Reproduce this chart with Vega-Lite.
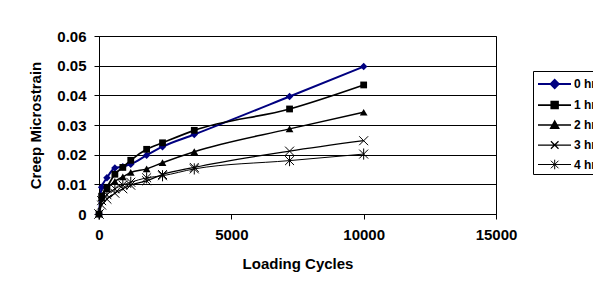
{
  "$schema": "https://vega.github.io/schema/vega-lite/v6.json",
  "width": 397,
  "height": 178,
  "autosize": {"type": "none"},
  "padding": {"left": 99, "top": 36, "right": 97, "bottom": 75},
  "background": "white",
  "config": {
    "font": "Liberation Sans",
    "view": {"stroke": "black", "strokeWidth": 1},
    "axis": {
      "domainColor": "black",
      "tickColor": "black",
      "gridColor": "black",
      "gridOpacity": 1,
      "tickSize": 5,
      "labelFont": "Liberation Sans",
      "labelFontSize": 15,
      "labelFontWeight": "bold",
      "labelColor": "black",
      "titleFont": "Liberation Sans",
      "titleFontSize": 15,
      "titleFontWeight": "bold",
      "titleColor": "black"
    }
  },
  "data": {
    "values": [
      {"cycles": 0, "series": "0 hr", "strain": 0},
      {"cycles": 100, "series": "0 hr", "strain": 0.009},
      {"cycles": 300, "series": "0 hr", "strain": 0.0122},
      {"cycles": 600, "series": "0 hr", "strain": 0.0155},
      {"cycles": 900, "series": "0 hr", "strain": 0.0159},
      {"cycles": 1200, "series": "0 hr", "strain": 0.0168},
      {"cycles": 1800, "series": "0 hr", "strain": 0.0198},
      {"cycles": 2400, "series": "0 hr", "strain": 0.0227},
      {"cycles": 3600, "series": "0 hr", "strain": 0.0268},
      {"cycles": 7200, "series": "0 hr", "strain": 0.0396},
      {"cycles": 10000, "series": "0 hr", "strain": 0.0497},
      {"cycles": 0, "series": "1 hr", "strain": 0},
      {"cycles": 100, "series": "1 hr", "strain": 0.006},
      {"cycles": 300, "series": "1 hr", "strain": 0.009},
      {"cycles": 600, "series": "1 hr", "strain": 0.0134},
      {"cycles": 900, "series": "1 hr", "strain": 0.0157},
      {"cycles": 1200, "series": "1 hr", "strain": 0.0181},
      {"cycles": 1800, "series": "1 hr", "strain": 0.0218},
      {"cycles": 2400, "series": "1 hr", "strain": 0.024},
      {"cycles": 3600, "series": "1 hr", "strain": 0.0282},
      {"cycles": 7200, "series": "1 hr", "strain": 0.0354},
      {"cycles": 10000, "series": "1 hr", "strain": 0.0435},
      {"cycles": 0, "series": "2 hr", "strain": 0},
      {"cycles": 100, "series": "2 hr", "strain": 0.0055},
      {"cycles": 300, "series": "2 hr", "strain": 0.0085},
      {"cycles": 600, "series": "2 hr", "strain": 0.011},
      {"cycles": 900, "series": "2 hr", "strain": 0.0125},
      {"cycles": 1200, "series": "2 hr", "strain": 0.014},
      {"cycles": 1800, "series": "2 hr", "strain": 0.0152},
      {"cycles": 2400, "series": "2 hr", "strain": 0.0173},
      {"cycles": 3600, "series": "2 hr", "strain": 0.021},
      {"cycles": 7200, "series": "2 hr", "strain": 0.0287},
      {"cycles": 10000, "series": "2 hr", "strain": 0.0343},
      {"cycles": 0, "series": "3 hr", "strain": 0},
      {"cycles": 100, "series": "3 hr", "strain": 0.003},
      {"cycles": 300, "series": "3 hr", "strain": 0.005},
      {"cycles": 600, "series": "3 hr", "strain": 0.007},
      {"cycles": 900, "series": "3 hr", "strain": 0.0085},
      {"cycles": 1200, "series": "3 hr", "strain": 0.0097},
      {"cycles": 1800, "series": "3 hr", "strain": 0.0112},
      {"cycles": 2400, "series": "3 hr", "strain": 0.0133},
      {"cycles": 3600, "series": "3 hr", "strain": 0.0157},
      {"cycles": 7200, "series": "3 hr", "strain": 0.0212},
      {"cycles": 10000, "series": "3 hr", "strain": 0.0247},
      {"cycles": 0, "series": "4 hr", "strain": 0},
      {"cycles": 100, "series": "4 hr", "strain": 0.0045},
      {"cycles": 300, "series": "4 hr", "strain": 0.0065},
      {"cycles": 600, "series": "4 hr", "strain": 0.0085},
      {"cycles": 900, "series": "4 hr", "strain": 0.0098},
      {"cycles": 1200, "series": "4 hr", "strain": 0.0107},
      {"cycles": 1800, "series": "4 hr", "strain": 0.0122},
      {"cycles": 2400, "series": "4 hr", "strain": 0.0129},
      {"cycles": 3600, "series": "4 hr", "strain": 0.0152},
      {"cycles": 7200, "series": "4 hr", "strain": 0.018},
      {"cycles": 10000, "series": "4 hr", "strain": 0.0202}
    ]
  },
  "encoding": {
    "x": {
      "field": "cycles",
      "type": "quantitative",
      "title": "Loading Cycles",
      "scale": {"domain": [0, 15000], "nice": false},
      "axis": {"values": [0, 5000, 10000, 15000], "format": "d", "grid": false, "labelPadding": 8, "titlePadding": 14, "labelFlush": false}
    },
    "y": {
      "field": "strain",
      "type": "quantitative",
      "title": "Creep Microstrain",
      "scale": {"domain": [0, 0.06], "nice": false},
      "axis": {"values": [0, 0.01, 0.02, 0.03, 0.04, 0.05, 0.06], "format": ".2~f", "grid": true, "labelPadding": 8, "titlePadding": 13, "labelFlush": false}
    }
  },
  "layer": [
    {
      "mark": {"type": "line", "interpolate": "monotone"},
      "encoding": {
        "color": {
          "field": "series",
          "type": "nominal",
          "scale": {"domain": ["0 hr", "1 hr", "2 hr", "3 hr", "4 hr"], "range": ["#000080", "black", "black", "black", "black"]},
          "legend": {
            "title": null,
            "orient": "none",
            "legendX": 434,
            "legendY": 35,
            "padding": 2,
            "strokeColor": "black",
            "fillColor": "white",
            "labelFont": "Liberation Sans",
            "labelFontSize": 12,
            "labelFontWeight": "bold",
            "labelColor": "black",
            "symbolSize": 400,
            "labelOffset": 17,
            "rowPadding": 2,
            "encode": {
              "symbols": {
                "update": {
                  "shape": {"signal": "datum.value === '0 hr' ? 'M-0.8,0L2.5,0M0.87,-0.4L1.27,0L0.87,0.4L0.47,0Z' : datum.value === '1 hr' ? 'M-0.8,0L2.5,0M0.53,-0.33L1.2,-0.33L1.2,0.33L0.53,0.33Z' : datum.value === '2 hr' ? 'M-0.8,0L2.5,0M0.87,-0.4L1.27,0.32L0.47,0.32Z' : datum.value === '3 hr' ? 'M-0.8,0L2.5,0M0.49,-0.38L1.25,0.38M0.49,0.38L1.25,-0.38' : 'M-0.8,0L2.5,0M0.49,-0.38L1.25,0.38M0.49,0.38L1.25,-0.38M0.87,-0.48L0.87,0.48'"},
                  "fill": {"signal": "datum.value === '0 hr' ? '#000080' : (datum.value === '3 hr' || datum.value === '4 hr') ? 'transparent' : 'black'"},
                  "stroke": {"signal": "datum.value === '0 hr' ? '#000080' : 'black'"},
                  "strokeWidth": {"signal": "datum.value === '1 hr' ? 1 : 2"},
                  "size": {"value": 400},
                  "opacity": {"value": 1}
                }
              }
            }
          }
        },
        "strokeWidth": {
          "field": "series",
          "type": "nominal",
          "scale": {"domain": ["0 hr", "1 hr", "2 hr", "3 hr", "4 hr"], "range": [2, 1, 2, 2, 2]},
          "legend": null
        }
      }
    },
    {
      "transform": [{"filter": "datum.series === '0 hr' || datum.series === '1 hr'"}],
      "mark": {"type": "point", "filled": true, "opacity": 1},
      "encoding": {
        "color": {"condition": {"test": "datum.series === '0 hr'", "value": "#000080"}, "value": "black"},
        "shape": {"condition": {"test": "datum.series === '0 hr'", "value": "diamond"}, "value": "square"},
        "size": {"condition": {"test": "datum.series === '0 hr'", "value": 56}, "value": 46}
      }
    },
    {
      "transform": [{"filter": "datum.series === '2 hr'"}],
      "mark": {"type": "point", "filled": true, "opacity": 1, "shape": "triangle-up", "color": "black", "size": 60},
      "encoding": {}
    },
    {
      "transform": [{"filter": "datum.series === '3 hr' || datum.series === '4 hr'"}],
      "mark": {"type": "point", "filled": false, "opacity": 1, "color": "black", "strokeWidth": 1, "size": 80},
      "encoding": {
        "shape": {"condition": {"test": "datum.series === '3 hr'", "value": "M-1,-1L1,1M-1,1L1,-1"}, "value": "M-1,-1L1,1M-1,1L1,-1M0,-1.25L0,1.25"}
      }
    }
  ]
}
